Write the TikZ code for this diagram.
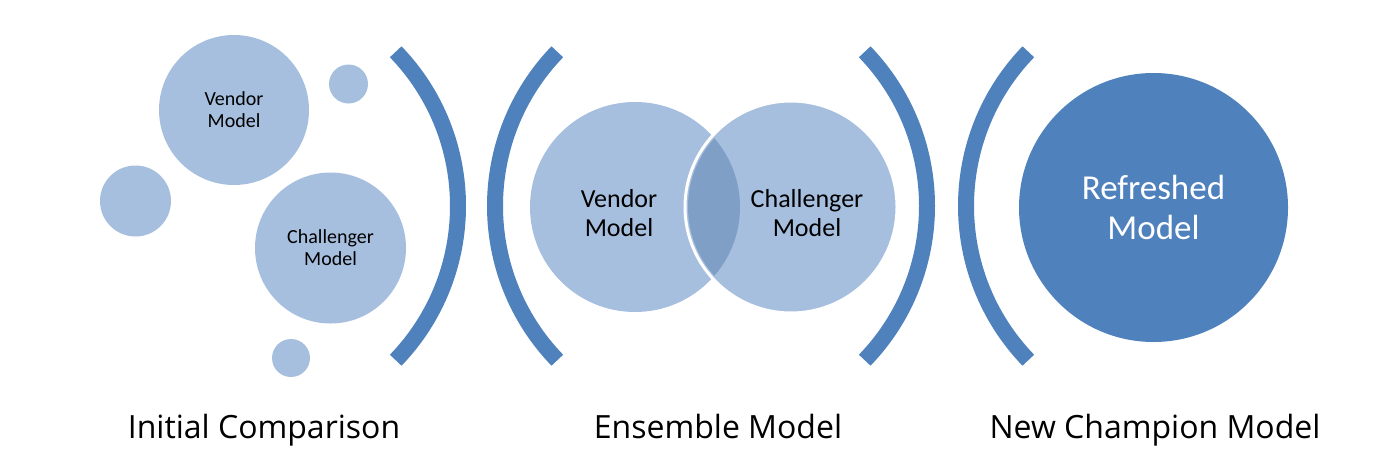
\documentclass[tikz,border=0pt]{standalone}
\usepackage{fontspec}
\setmainfont{Carlito}
\newfontfamily\labelfont{Open Sans}
\definecolor{paleblue}{HTML}{A7BFDE}
\definecolor{deepblue}{HTML}{4F81BD}
\definecolor{lensblue}{HTML}{7F9FC7}
\begin{document}
\begin{tikzpicture}[
    x=0.5pt, y=0.5pt,
    every node/.style={inner sep=0pt, align=center},
    bubble/.style={circle, fill=paleblue},
    smalltext/.style={font=\fontsize{10}{11}\selectfont},
    venntext/.style={font=\fontsize{13}{14.5}\selectfont},
    paren/.style={draw=deepblue, line width=8pt},
    caption/.style={anchor=base, font=\labelfont\fontsize{16}{19}\selectfont}
]
\useasboundingbox (0,0) rectangle (1400,462);

% initial comparison
\node[bubble, minimum size=75pt, smalltext] (vendor) at (234,352) {Vendor\\Model};
\node[bubble, minimum size=75.5pt, smalltext] (challenger) at (330.5,214) {Challenger\\Model};
\node[bubble, minimum size=19.5pt] (dotA) at (348.5,378) {};
\node[bubble, minimum size=35.5pt] (dotB) at (135.5,261) {};
\node[bubble, minimum size=19pt] (dotC) at (291,104) {};

% ensemble model
\node[bubble, minimum size=105pt] (vendorE) at (635,255) {};
\node[bubble, minimum size=106pt, draw=white, line width=1.5pt] (challengerE) at (791,255) {};
\begin{scope}
    \clip (vendorE.center) circle[radius=105];
    \fill[lensblue] (challengerE.center) circle[radius=103];
\end{scope}
\node[venntext] (vendorT) at ([xshift=-8pt, yshift=-3pt]vendorE.center) {Vendor\\Model};
\node[venntext] (challengerT) at ([xshift=8pt, yshift=-3pt]challengerE.center) {Challenger\\Model};

% new champion
\node[circle, fill=deepblue, minimum size=134.5pt, text=white,
      font=\fontsize{17.5}{20}\selectfont] (refreshed) at (1153.5,254.5) {Refreshed\\Model};

% brackets
\draw[paren] (236,256) ++(-44:222) arc[start angle=-44, end angle=44, radius=222];
\draw[paren] (717,256) ++(136:222) arc[start angle=136, end angle=224, radius=222];
\draw[paren] (705,256) ++(-44:222) arc[start angle=-44, end angle=44, radius=222];
\draw[paren] (1188,256) ++(136:222) arc[start angle=136, end angle=224, radius=222];

% captions
\node[caption] (initial) at (264,24) {Initial Comparison};
\node[caption] (ensemble) at (718,24) {Ensemble Model};
\node[caption] (champion) at (1155,24) {New Champion Model};
\end{tikzpicture}
\end{document}
